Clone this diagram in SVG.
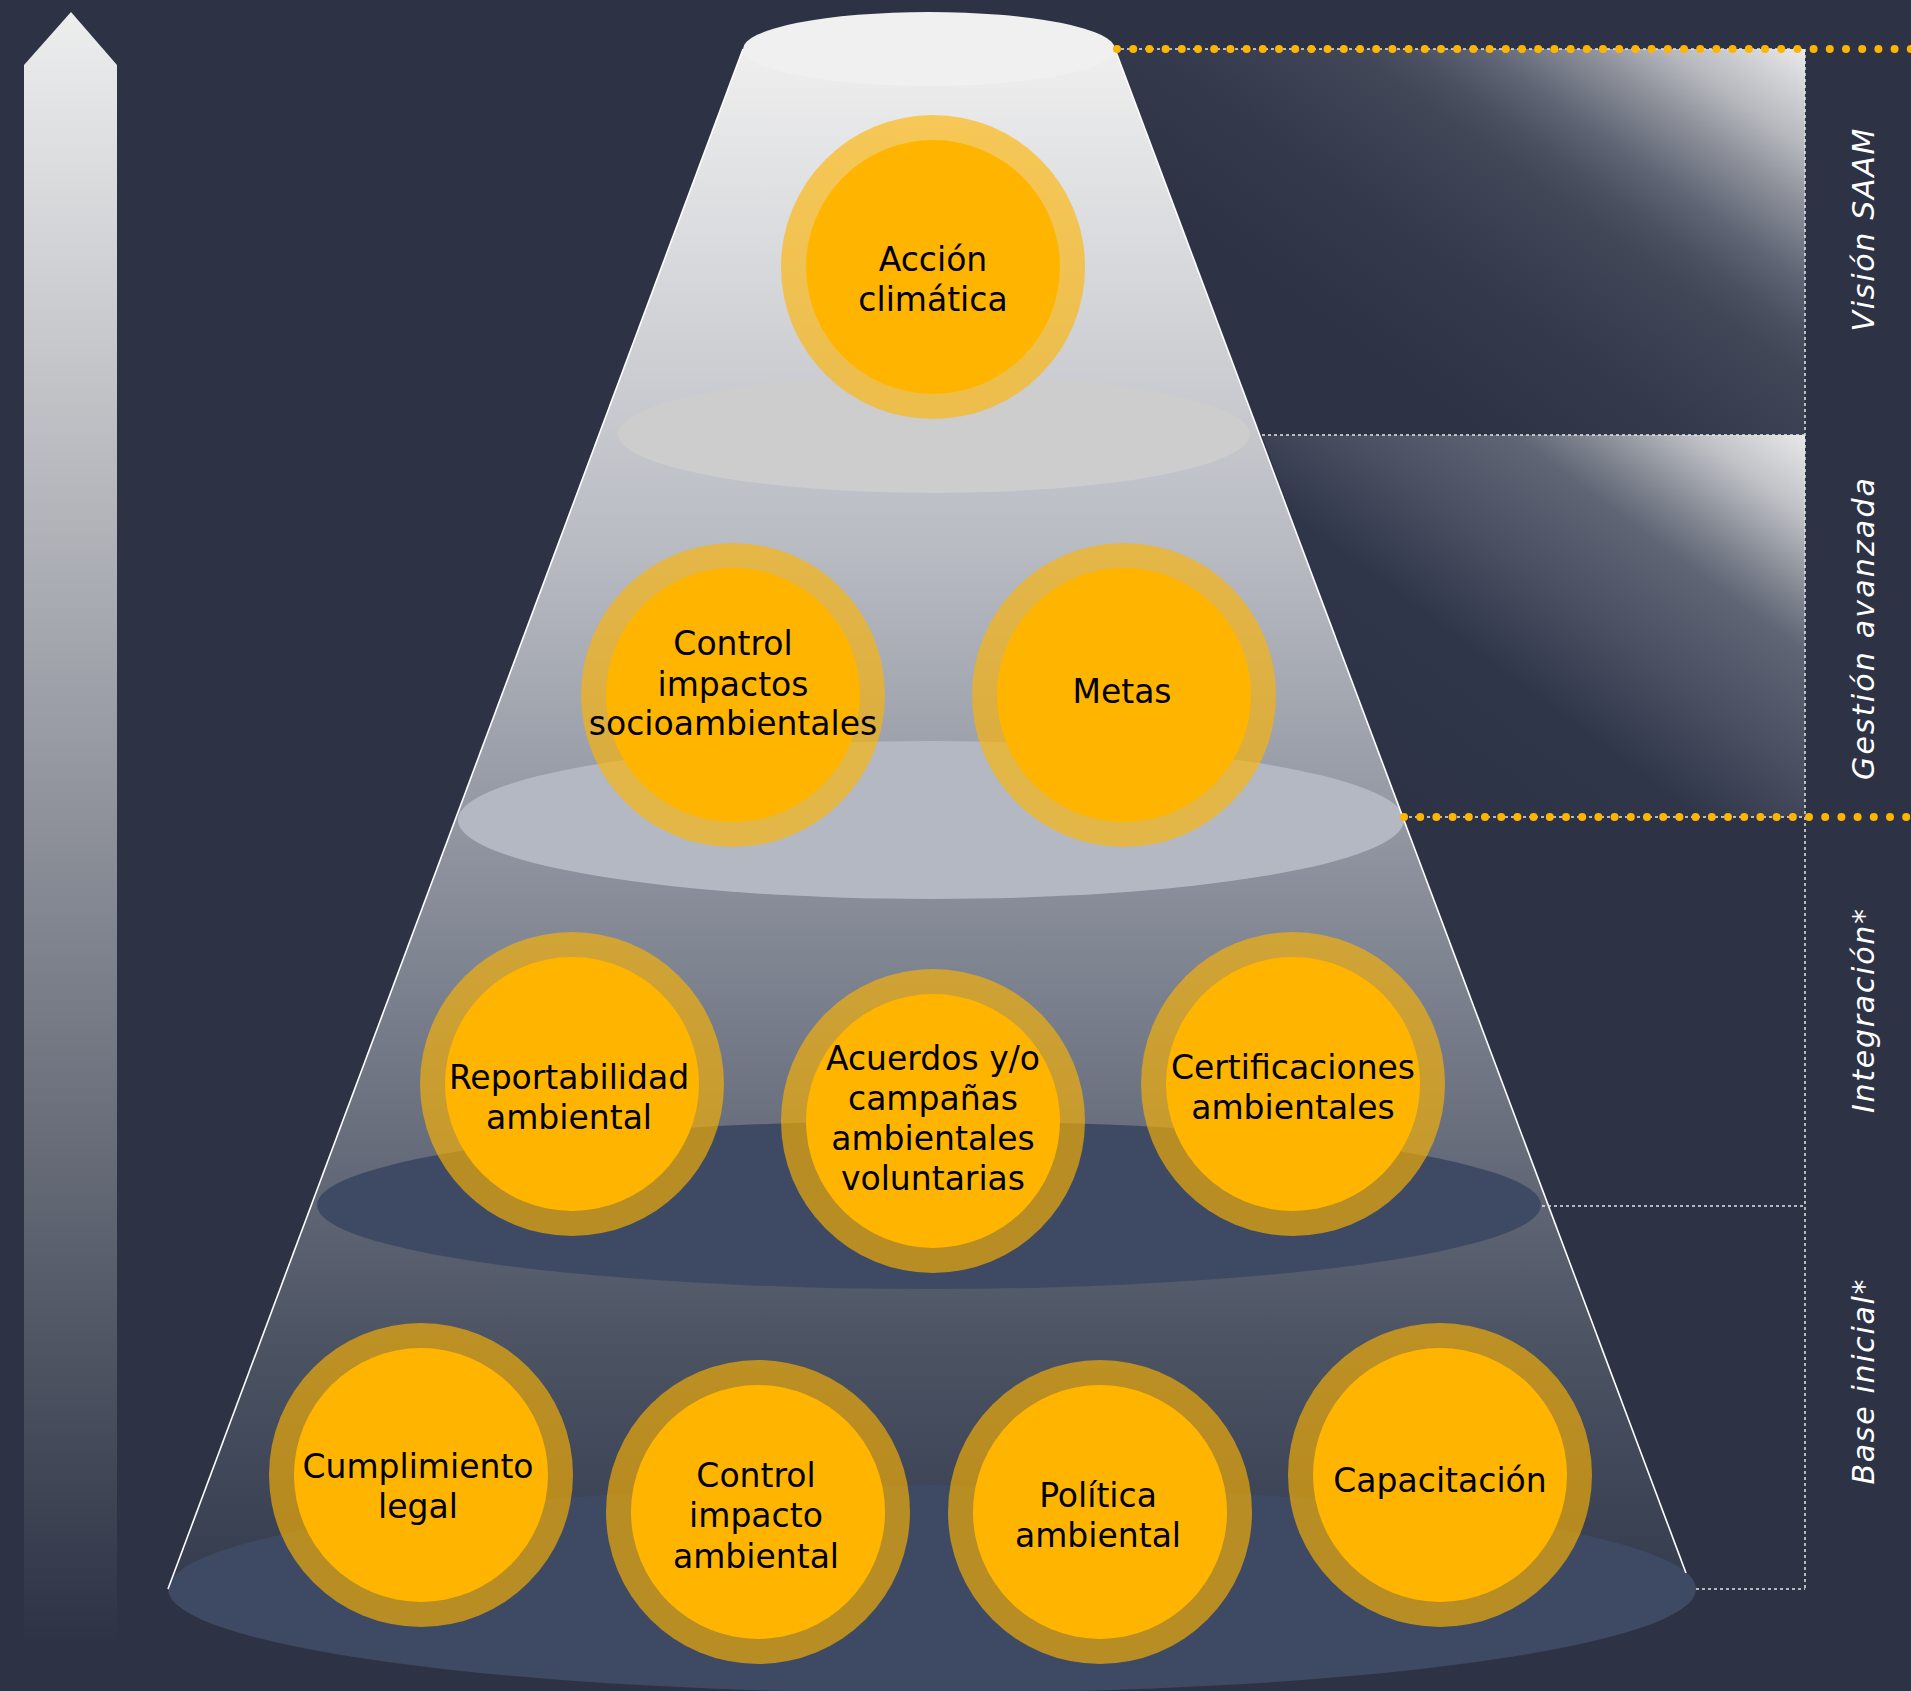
<svg xmlns="http://www.w3.org/2000/svg" width="1911" height="1691" viewBox="0 0 1911 1691">
<defs>
<linearGradient id="gArrow" x1="0" y1="12" x2="0" y2="1645" gradientUnits="userSpaceOnUse">
<stop offset="0" stop-color="#edeeee"/><stop offset="1" stop-color="#2d3345"/>
</linearGradient>
<linearGradient id="gCone" x1="0" y1="49" x2="0" y2="1589" gradientUnits="userSpaceOnUse">
<stop offset="0" stop-color="#efefef"/><stop offset="0.32" stop-color="#b9bcc3"/><stop offset="0.59" stop-color="#808592"/><stop offset="0.84" stop-color="#4c5363"/><stop offset="1" stop-color="#353c4e"/>
</linearGradient>
<linearGradient id="gPanel1" x1="1805" y1="49" x2="1437" y2="561" gradientUnits="userSpaceOnUse">
<stop offset="0" stop-color="#e9e9ea"/><stop offset="0.13" stop-color="#b5b7bd"/><stop offset="0.2" stop-color="#8f929b"/><stop offset="0.3" stop-color="#5f6575"/><stop offset="0.37" stop-color="#4a505f"/><stop offset="0.42" stop-color="#414757"/><stop offset="0.6" stop-color="#343a4c"/><stop offset="0.8" stop-color="#2d3345"/><stop offset="1" stop-color="#2d3345"/>
</linearGradient>
<linearGradient id="gPanel2" x1="1805" y1="435" x2="1480" y2="873" gradientUnits="userSpaceOnUse">
<stop offset="0" stop-color="#e8e8e8"/><stop offset="0.12" stop-color="#bfc1c6"/><stop offset="0.25" stop-color="#7d828d"/><stop offset="0.32" stop-color="#5f6575"/><stop offset="0.5" stop-color="#4a5061"/><stop offset="0.68" stop-color="#30364a"/><stop offset="1" stop-color="#2d3345"/>
</linearGradient>
</defs>
<style>
.ring{fill:#ffb400;fill-opacity:0.63}
.core{fill:#ffb500}
.lbl{font-family:"DejaVu Sans",sans-serif;font-size:33px;fill:#000000;text-anchor:middle}
.side{font-family:"DejaVu Sans",sans-serif;font-style:italic;font-size:30px;fill:#ffffff;text-anchor:middle}
.wdash{stroke:#e6e6e6;stroke-width:1.5;stroke-dasharray:3 3;fill:none}
.ydot{stroke:#ffb400;stroke-width:8;stroke-linecap:round;stroke-dasharray:0 16.2;fill:none}
.edge{stroke:#ffffff;stroke-width:1.6;fill:none}
</style>
<rect x="0" y="0" width="1911" height="1691" fill="#2d3345"/>

<g id="arrow">
<polygon points="71,12 117,65 117,1645 24,1645 24,65" fill="url(#gArrow)"/>
</g>

<g id="panels">
<polygon points="1115,49 1805,49 1805,435 1262,435" fill="url(#gPanel1)"/>
<polygon points="1262,435 1805,435 1805,817 1403,817" fill="url(#gPanel2)"/>
</g>

<g id="cone">
<polygon points="743,49 1115,49 1686,1572 1696,1589 168,1589" fill="url(#gCone)"/>
<ellipse cx="934" cy="434" rx="316" ry="59" fill="#cdcdcd"/>
<ellipse cx="931" cy="820" rx="473" ry="79" fill="#b4b8c3"/>
<ellipse cx="929" cy="1205" rx="612" ry="84" fill="#3e4a63"/>
<ellipse cx="932" cy="1589" rx="764" ry="104" fill="#3e4a63"/>
<line class="edge" x1="743" y1="49" x2="168" y2="1589"/>
<line class="edge" x1="1115" y1="49" x2="1686" y2="1573"/>
<ellipse cx="929" cy="49" rx="186" ry="37" fill="#f0f0f0"/>
</g>

<g id="connectors">
<line class="wdash" x1="1115" y1="49" x2="1805" y2="49"/>
<line class="wdash" x1="1262" y1="435" x2="1805" y2="435"/>
<line class="wdash" x1="1403" y1="817" x2="1805" y2="817"/>
<line class="wdash" x1="1542" y1="1206" x2="1805" y2="1206"/>
<line class="wdash" x1="1696" y1="1589" x2="1805" y2="1589"/>
<line class="wdash" x1="1805" y1="49" x2="1805" y2="1589"/>
<line class="ydot" x1="1117" y1="49" x2="1911" y2="49"/>
<line class="ydot" x1="1404" y1="817" x2="1911" y2="817"/>
</g>

<g id="n-accion">
<circle class="ring" cx="933" cy="267" r="152"/><circle class="core" cx="933" cy="267" r="127"/>
<text class="lbl" x="933" y="271">Acción</text><text class="lbl" x="933" y="311">climática</text>
</g>
<g id="n-control-socio">
<circle class="ring" cx="733" cy="695" r="152"/><circle class="core" cx="733" cy="695" r="127"/>
<text class="lbl" x="733" y="655">Control</text><text class="lbl" x="733" y="696">impactos</text><text class="lbl" x="733" y="735">socioambientales</text>
</g>
<g id="n-metas">
<circle class="ring" cx="1124" cy="695" r="152"/><circle class="core" cx="1124" cy="695" r="127"/>
<text class="lbl" x="1122" y="703">Metas</text>
</g>
<g id="n-reportabilidad">
<circle class="ring" cx="572" cy="1084" r="152"/><circle class="core" cx="572" cy="1084" r="127"/>
<text class="lbl" x="569" y="1089">Reportabilidad</text><text class="lbl" x="569" y="1129">ambiental</text>
</g>
<g id="n-acuerdos">
<circle class="ring" cx="933" cy="1121" r="152"/><circle class="core" cx="933" cy="1121" r="127"/>
<text class="lbl" x="933" y="1070">Acuerdos y/o</text><text class="lbl" x="933" y="1110">campañas</text><text class="lbl" x="933" y="1150">ambientales</text><text class="lbl" x="933" y="1190">voluntarias</text>
</g>
<g id="n-certificaciones">
<circle class="ring" cx="1293" cy="1084" r="152"/><circle class="core" cx="1293" cy="1084" r="127"/>
<text class="lbl" x="1293" y="1079">Certificaciones</text><text class="lbl" x="1293" y="1119">ambientales</text>
</g>
<g id="n-cumplimiento">
<circle class="ring" cx="421" cy="1475" r="152"/><circle class="core" cx="421" cy="1475" r="127"/>
<text class="lbl" x="418" y="1478">Cumplimiento</text><text class="lbl" x="418" y="1518">legal</text>
</g>
<g id="n-control-impacto">
<circle class="ring" cx="758" cy="1512" r="152"/><circle class="core" cx="758" cy="1512" r="127"/>
<text class="lbl" x="756" y="1487">Control</text><text class="lbl" x="756" y="1527">impacto</text><text class="lbl" x="756" y="1568">ambiental</text>
</g>
<g id="n-politica">
<circle class="ring" cx="1100" cy="1512" r="152"/><circle class="core" cx="1100" cy="1512" r="127"/>
<text class="lbl" x="1098" y="1507">Política</text><text class="lbl" x="1098" y="1547">ambiental</text>
</g>
<g id="n-capacitacion">
<circle class="ring" cx="1440" cy="1475" r="152"/><circle class="core" cx="1440" cy="1475" r="127"/>
<text class="lbl" x="1440" y="1492">Capacitación</text>
</g>

<g id="side-labels">
<text class="side" transform="translate(1874,230) rotate(-90)" textLength="203" lengthAdjust="spacing">Visión SAAM</text>
<text class="side" transform="translate(1874,629) rotate(-90)" textLength="302" lengthAdjust="spacing">Gestión avanzada</text>
<text class="side" transform="translate(1874,1011) rotate(-90)" textLength="204" lengthAdjust="spacing">Integración*</text>
<text class="side" transform="translate(1874,1382) rotate(-90)" textLength="205" lengthAdjust="spacing">Base inicial*</text>
</g>
</svg>
